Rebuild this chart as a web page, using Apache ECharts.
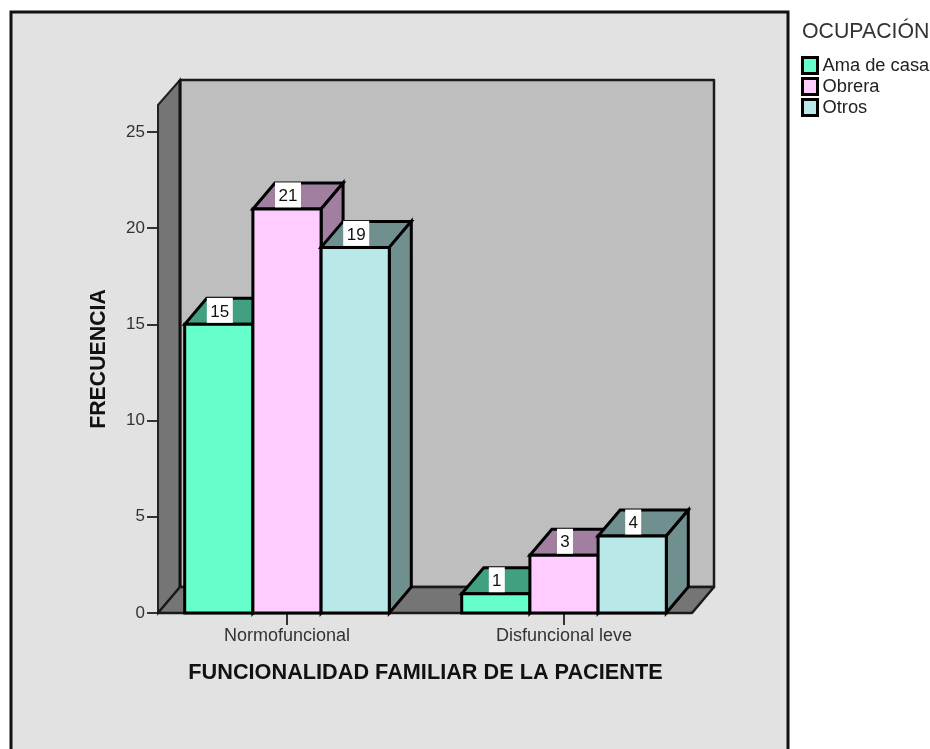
<!DOCTYPE html>
<html>
<head>
<meta charset="utf-8">
<style>html,body{margin:0;padding:0;background:#fff}#chart{width:930px;height:749px}</style>
<script src="https://cdn.jsdelivr.net/npm/echarts@6/dist/echarts.min.js"></script>
</head>
<body>
<div id="chart"></div>
<script>
// Frequencies by family functionality and occupation
const categories = ['Normofuncional', 'Disfuncional leve'];
const amaDeCasa = [15, 1];
const obrera = [21, 3];
const otros = [19, 4];
const yTicks = [0, 5, 10, 15, 20, 25];
const seriesNames = ['Ama de casa', 'Obrera', 'Otros'];
const seriesValues = [amaDeCasa, obrera, otros];
const frontColors = ['#66FFCC', '#FFCCFF', '#B8E8E8'];
const shadeColors = ['#40A080', '#A07FA0', '#709090'];

const FONT = '"Liberation Sans", Arial, sans-serif';
const DEPTH_X = 22, DEPTH_Y = 26;      // oblique offset of the 3D box
const BAR_SHARE = 0.2462;              // bar width as a share of the category band
const OUTLINE = 3;

// Walls and floor of the 3D box behind the bars
function renderBackdrop(params, api) {
  const y0 = api.coord([0, 0])[1];
  const yTop = params.coordSys.y;
  const x0 = params.coordSys.x + 9.5;
  const x1 = params.coordSys.x + params.coordSys.width - 10.5;
  const edge = { stroke: '#1a1a1a', lineWidth: 2.5, lineJoin: 'round' };
  return {
    type: 'group',
    children: [
      { type: 'rect', shape: { x: x0 + DEPTH_X, y: yTop - DEPTH_Y + 1, width: x1 - x0, height: y0 - yTop - 1 },
        style: { fill: '#BEBEBE', ...edge } },
      { type: 'polygon', shape: { points: [[x0, yTop], [x0 + DEPTH_X, yTop - DEPTH_Y + 1], [x0 + DEPTH_X, y0 - DEPTH_Y], [x0, y0]] },
        style: { fill: '#757575', stroke: '#222', lineWidth: 2 } },
      { type: 'line', shape: { x1: x0 + DEPTH_X, y1: yTop - DEPTH_Y + 1, x2: x0 + DEPTH_X, y2: y0 - DEPTH_Y },
        style: { stroke: '#111', lineWidth: 3 } },
      { type: 'polygon', shape: { points: [[x0, y0], [x0 + DEPTH_X, y0 - DEPTH_Y], [x1 + DEPTH_X, y0 - DEPTH_Y], [x1, y0]] },
        style: { fill: '#757575', ...edge } }
    ]
  };
}

// One oblique bar: front, top and side faces plus its value tag
function makeBarRenderer(seriesIndex) {
  return function (params, api) {
    const value = api.value(1);
    const base = api.coord([api.value(0), 0]);
    const top = api.coord([api.value(0), value]);
    const w = api.size([1, 0])[0] * BAR_SHARE;
    const left = base[0] + (seriesIndex - 1.5) * w;
    const right = left + w;
    const line = { stroke: '#000', lineWidth: OUTLINE, lineJoin: 'miter' };
    const labelText = String(value);
    const tagW = labelText.length > 1 ? 26 : 16;
    const cx = left + w / 2 + 1;
    return {
      type: 'group',
      children: [
        { type: 'polygon', shape: { points: [[left, top[1]], [left + DEPTH_X, top[1] - DEPTH_Y], [right + DEPTH_X, top[1] - DEPTH_Y], [right, top[1]]] },
          style: { fill: shadeColors[seriesIndex], ...line } },
        { type: 'polygon', shape: { points: [[right, top[1]], [right + DEPTH_X, top[1] - DEPTH_Y], [right + DEPTH_X, base[1] - DEPTH_Y], [right, base[1]]] },
          style: { fill: shadeColors[seriesIndex], ...line } },
        { type: 'rect', shape: { x: left, y: top[1], width: w, height: base[1] - top[1] },
          style: { fill: frontColors[seriesIndex], ...line } },
        { type: 'rect', shape: { x: cx - tagW / 2, y: top[1] - DEPTH_Y - 0.5, width: tagW, height: DEPTH_Y - 1 },
          style: { fill: '#fff' } },
        { type: 'text', x: cx, y: top[1] - DEPTH_Y / 2 + 0.5,
          style: { text: labelText, fill: '#111', font: '17px ' + FONT, textAlign: 'center', textVerticalAlign: 'middle' } }
      ]
    };
  };
}

const chart = echarts.init(document.getElementById('chart'), null, { renderer: 'canvas' });
chart.setOption({
  animation: false,
  backgroundColor: '#fff',
  graphic: [{
    type: 'rect', z: -10,
    shape: { x: 11, y: 12, width: 777, height: 760 },
    style: { fill: '#E2E2E2', stroke: '#111', lineWidth: 3 }
  }],
  title: {
    text: 'OCUPACIÓN', left: 802, top: 22, padding: 0,
    textStyle: { fontFamily: FONT, fontSize: 21.3, fontWeight: 'normal', color: '#333' }
  },
  legend: {
    orient: 'vertical', left: 801, top: 56, padding: 0, itemGap: 2,
    itemWidth: 15, itemHeight: 16, selectedMode: false,
    data: seriesNames.map((name, i) => ({
      name, icon: 'rect',
      itemStyle: { color: frontColors[i], borderColor: '#000', borderWidth: 3 }
    })),
    textStyle: { fontFamily: FONT, fontSize: 18.3, lineHeight: 16, color: '#222', padding: [0, 0, 0, 0] }
  },
  grid: { left: 148.5, right: 227.5, top: 105, bottom: 136 },
  xAxis: {
    type: 'category',
    data: categories,
    axisLine: { show: false },
    axisTick: { show: true, alignWithLabel: true, length: 12, lineStyle: { color: '#333', width: 2 } },
    axisLabel: { fontFamily: FONT, fontSize: 18, color: '#333', margin: 14 },
    name: 'FUNCIONALIDAD FAMILIAR DE LA PACIENTE',
    nameLocation: 'middle', nameGap: 49,
    nameTextStyle: { fontFamily: FONT, fontSize: 21.7, fontWeight: 'bold', color: '#111' }
  },
  yAxis: {
    type: 'value', min: 0, max: 26.4, interval: 5, offset: -9.5,
    splitLine: { show: false },
    axisLine: { show: false },
    axisTick: { show: true, length: 11, customValues: yTicks, lineStyle: { color: '#333', width: 2 } },
    axisLabel: { fontFamily: FONT, fontSize: 17, color: '#333', margin: 13, customValues: yTicks, padding: [5, 0, 0, 0] },
    name: 'FRECUENCIA',
    nameLocation: 'middle', nameGap: 48,
    nameTextStyle: { fontFamily: FONT, fontSize: 21.3, fontWeight: 'bold', color: '#111' }
  },
  series: [
    { type: 'custom', name: 'backdrop', z: 1, silent: true, renderItem: renderBackdrop, data: [[0, 0]], encode: { x: 0, y: 1 } },
    ...seriesNames.map((name, i) => ({
      type: 'custom', name, z: 2 + i, silent: true,
      itemStyle: { color: frontColors[i] },
      renderItem: makeBarRenderer(i),
      encode: { x: 0, y: 1 },
      data: seriesValues[i].map((v, c) => [c, v])
    }))
  ]
});
</script>
</body>
</html>
